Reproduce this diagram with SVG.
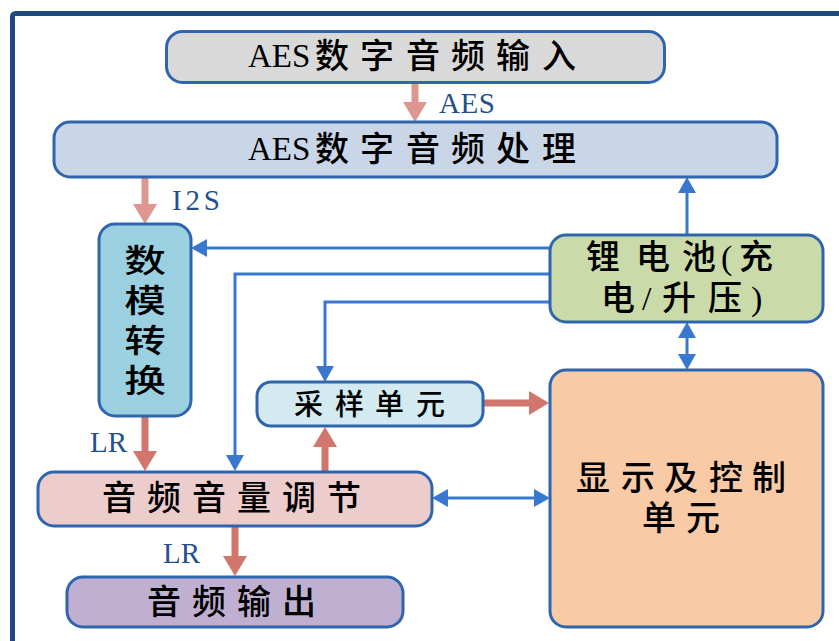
<svg xmlns="http://www.w3.org/2000/svg" width="839" height="641" viewBox="0 0 839 641">
<style>
.node{stroke:#2f65ad;stroke-width:3}
.t{font-family:"Liberation Serif","Noto Sans CJK SC",serif;font-size:34px;font-weight:500;fill:#000}
.lbl{font-family:"Liberation Serif","Noto Sans CJK SC",serif;font-size:29px;fill:#22508f}
.pl{fill:none;stroke:#de9690;stroke-width:7}
.pd{fill:none;stroke:#d0766d;stroke-width:7}
.bl{fill:none;stroke:#3a78d0;stroke-width:3}
</style>
<defs>
<marker id="hpl" viewBox="0 0 20 24" refX="4" refY="12" markerWidth="20" markerHeight="24" markerUnits="userSpaceOnUse" orient="auto"><path d="M0,0 L20,12 L0,24 z" fill="#de9690"/></marker>
<marker id="hpd" viewBox="0 0 20 24" refX="4" refY="12" markerWidth="20" markerHeight="24" markerUnits="userSpaceOnUse" orient="auto"><path d="M0,0 L20,12 L0,24 z" fill="#d0766d"/></marker>
<marker id="hb" viewBox="0 0 16 18" refX="4" refY="9" markerWidth="16" markerHeight="18" markerUnits="userSpaceOnUse" orient="auto-start-reverse"><path d="M0,0 L16,9 L0,18 z" fill="#3a78d0"/></marker>
</defs>
<rect x="0" y="0" width="839" height="641" fill="#ffffff"/>
<rect x="12.5" y="13.5" width="900" height="700" rx="3" fill="none" stroke="#1f4a7f" stroke-width="5"/>

<g id="connectors">
<path class="pl" d="M415,83 V106" marker-end="url(#hpl)"/>
<path class="pl" d="M145,177 V208" marker-end="url(#hpl)"/>
<path class="pd" d="M145,417 V455" marker-end="url(#hpd)"/>
<path class="pd" d="M325,472 V443" marker-end="url(#hpd)"/>
<path class="pd" d="M235,526 V560" marker-end="url(#hpd)"/>
<path class="pd" d="M483,403 H533" marker-end="url(#hpd)"/>
<path class="bl" d="M687,235 V189" marker-end="url(#hb)"/>
<path class="bl" d="M550,248 H203" marker-end="url(#hb)"/>
<path class="bl" d="M550,274 H235 V459" marker-end="url(#hb)"/>
<path class="bl" d="M550,302 H325 V370" marker-end="url(#hb)"/>
<path class="bl" d="M687,334 V358" marker-start="url(#hb)" marker-end="url(#hb)"/>
<path class="bl" d="M444,498 H538" marker-start="url(#hb)" marker-end="url(#hb)"/>
<text class="lbl" x="439" y="113" textLength="56">AES</text>
<text class="lbl" x="172" y="210" textLength="48">I2S</text>
<text class="lbl" x="90" y="452" textLength="37">LR</text>
<text class="lbl" x="163" y="563" textLength="37">LR</text>
</g>

<g id="aes-input">
<rect class="node" x="166.5" y="31.5" width="498" height="51" rx="16" fill="#d9d9d9"/>
<text class="t" x="248" y="67" style="font-size:33px">AES</text>
<text class="t" x="315 360 406 451 496 542" y="68">数字音频输入</text>
</g>

<g id="aes-proc">
<rect class="node" x="54" y="122" width="723" height="55" rx="16" fill="#c9d6e8"/>
<text class="t" x="248" y="160" style="font-size:33px">AES</text>
<text class="t" x="315 360 406 451 496 542" y="161">数字音频处理</text>
</g>

<g id="dac">
<rect class="node" x="99" y="224" width="92" height="192" rx="16" fill="#9ad0df"/>
<g transform="translate(145,0) scale(1.3,1)">
<text class="t" x="0" y="272" text-anchor="middle" style="font-size:32px">数</text>
<text class="t" x="0" y="312" text-anchor="middle" style="font-size:32px">模</text>
<text class="t" x="0" y="352" text-anchor="middle" style="font-size:32px">转</text>
<text class="t" x="0" y="392" text-anchor="middle" style="font-size:32px">换</text>
</g>
</g>

<g id="battery">
<rect class="node" x="550" y="235" width="273" height="87" rx="16" fill="#cbdaa9"/>
<text class="t" x="586 636 682 721 739" y="269">锂电池(充</text>
<text class="t" x="601 642 662 708 751" y="310">电/升压)</text>
</g>

<g id="sampling">
<rect class="node" x="257" y="382" width="226" height="44" rx="14" fill="#d3eaf0"/>
<text class="t" x="294 335 375 416" y="415" style="font-size:29px">采样单元</text>
</g>

<g id="display">
<rect class="node" x="550" y="370" width="273" height="257" rx="16" fill="#f8cba6"/>
<text class="t" x="576 621 664 709 752" y="490">显示及控制</text>
<text class="t" x="642 686" y="530">单元</text>
</g>

<g id="volume">
<rect class="node" x="38" y="472" width="394" height="54" rx="16" fill="#edcccc"/>
<text class="t" x="102 147 192 237 282 327" y="510">音频音量调节</text>
</g>

<g id="output">
<rect class="node" x="67" y="577" width="336" height="50" rx="16" fill="#bfb0d2"/>
<text class="t" x="147 192 237 282" y="614">音频输出</text>
</g>
</svg>
